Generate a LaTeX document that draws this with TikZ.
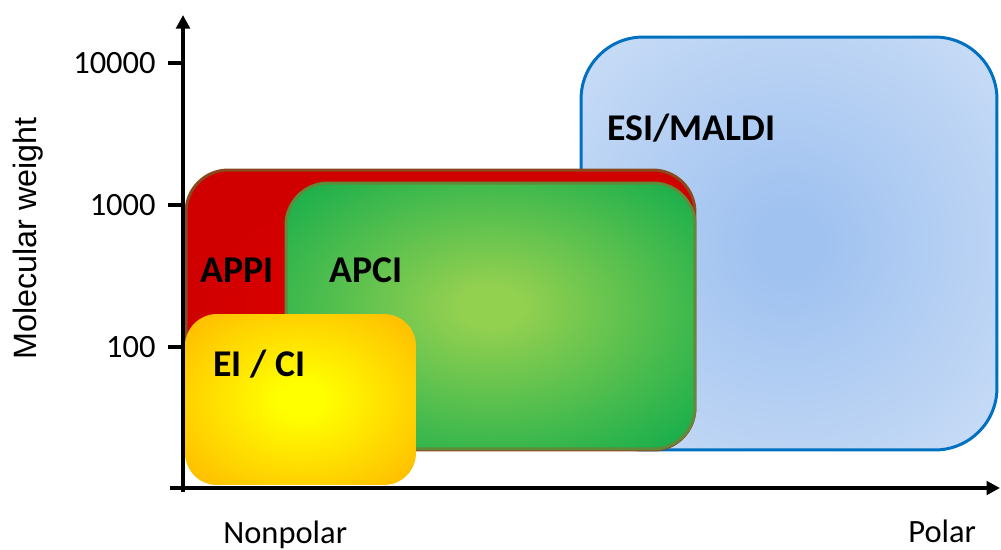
\documentclass[tikz,border=0pt]{standalone}
\usepackage{fontspec}
\setmainfont{Carlito}
\newfontfamily\arialfont{Liberation Sans}
\usetikzlibrary{arrows.meta,positioning}
\definecolor{esiedge}{HTML}{0070C0}
\definecolor{esiin}{HTML}{A0C2F0}
\definecolor{esiout}{HTML}{C8DCF6}
\definecolor{appiedge}{HTML}{8B4A1E}
\definecolor{appiin}{HTML}{E40000}
\definecolor{appiout}{HTML}{D00000}
\definecolor{apciedge}{HTML}{5F8B3A}
\definecolor{apciin}{HTML}{92D050}
\definecolor{apciout}{HTML}{1BAF4C}
\definecolor{eiin}{HTML}{FFFF00}
\definecolor{eiout}{HTML}{FFC000}
\pgfdeclareradialshading{esifill}{\pgfpoint{0bp}{0bp}}{color(0bp)=(esiin); color(4bp)=(esiin); color(34bp)=(esiout); color(50bp)=(esiout)}
\pgfdeclareradialshading{apcifill}{\pgfpoint{0bp}{2bp}}{color(0bp)=(apciin); color(4bp)=(apciin); color(33bp)=(apciout); color(50bp)=(apciout)}
\pgfdeclareradialshading{eifill}{\pgfpoint{0bp}{0bp}}{color(0bp)=(eiin); color(5bp)=(eiin); color(32bp)=(eiout); color(50bp)=(eiout)}

\begin{document}
\begin{tikzpicture}[
  x=0.02cm,y=-0.02cm,
  region/.style={rectangle,line width=1.7pt,inner sep=0pt},
  tag/.style={font=\fontsize{21.5}{26}\selectfont\bfseries,inner sep=0pt,anchor=base west},
  ticklabel/.style={font=\fontsize{18.5}{22}\selectfont,inner sep=0pt,anchor=base east},
  axislabel/.style={font=\fontsize{18.5}{22}\selectfont,inner sep=0pt,anchor=base west},
  axis/.style={line width=2.8pt,-{Triangle[length=0.27cm,width=0.27cm]}}
]
\useasboundingbox (0,0) rectangle (1001,549);

\node[region,draw=esiedge,shade,shading=esifill,rounded corners=1.24cm,
  minimum width=8.32cm,minimum height=8.26cm] (esi) at (789,243.5) {};
\node[region,draw=appiedge,inner color=appiin,outer color=appiout,rounded corners=0.84cm,
  minimum width=10.18cm,minimum height=5.6cm] (appi) at (440.5,310) {};
\node[region,draw=apciedge,shade,shading=apcifill,rounded corners=0.84cm,
  minimum width=8.18cm,minimum height=5.32cm] (apci) at (490.5,316) {};
\node[region,shade,shading=eifill,rounded corners=0.64cm,
  minimum width=4.62cm,minimum height=3.42cm] (eici) at (300.5,399.5) {};

\node[tag] (esitag) at (607,140) {ESI/MALDI};
\node[tag] (appitag) at (200,282) {APPI};
\node[tag] (apcitag) at (329,282) {APCI};
\node[tag] (eitag) at (213,376) {EI / CI};

\coordinate (yfoot) at (183,492);
\coordinate (ytop) at (183,15);
\coordinate (xfoot) at (170,488);
\coordinate (xtip) at (1000,488);
\draw[axis] (yfoot) -- (ytop);
\draw[axis] (xfoot) -- (xtip);

\foreach \yy/\lab in {63/10000,205/1000,347/100}{
  \coordinate (tk\lab) at (168,\yy);
  \draw[line width=2.8pt] (tk\lab) -- (tk\lab -| yfoot);
  \node[ticklabel] (lb\lab) at (156,\yy+10) {\lab};
}

\node[font=\arialfont\fontsize{18.4}{22}\selectfont,inner sep=0pt,rotate=90,anchor=base] (ylabel) at (36,238.5) {Molecular weight};
\node[axislabel] (nonpolar) at (223,543) {Nonpolar};
\node[axislabel] (polar) at (908,542) {Polar};
\end{tikzpicture}
\end{document}
